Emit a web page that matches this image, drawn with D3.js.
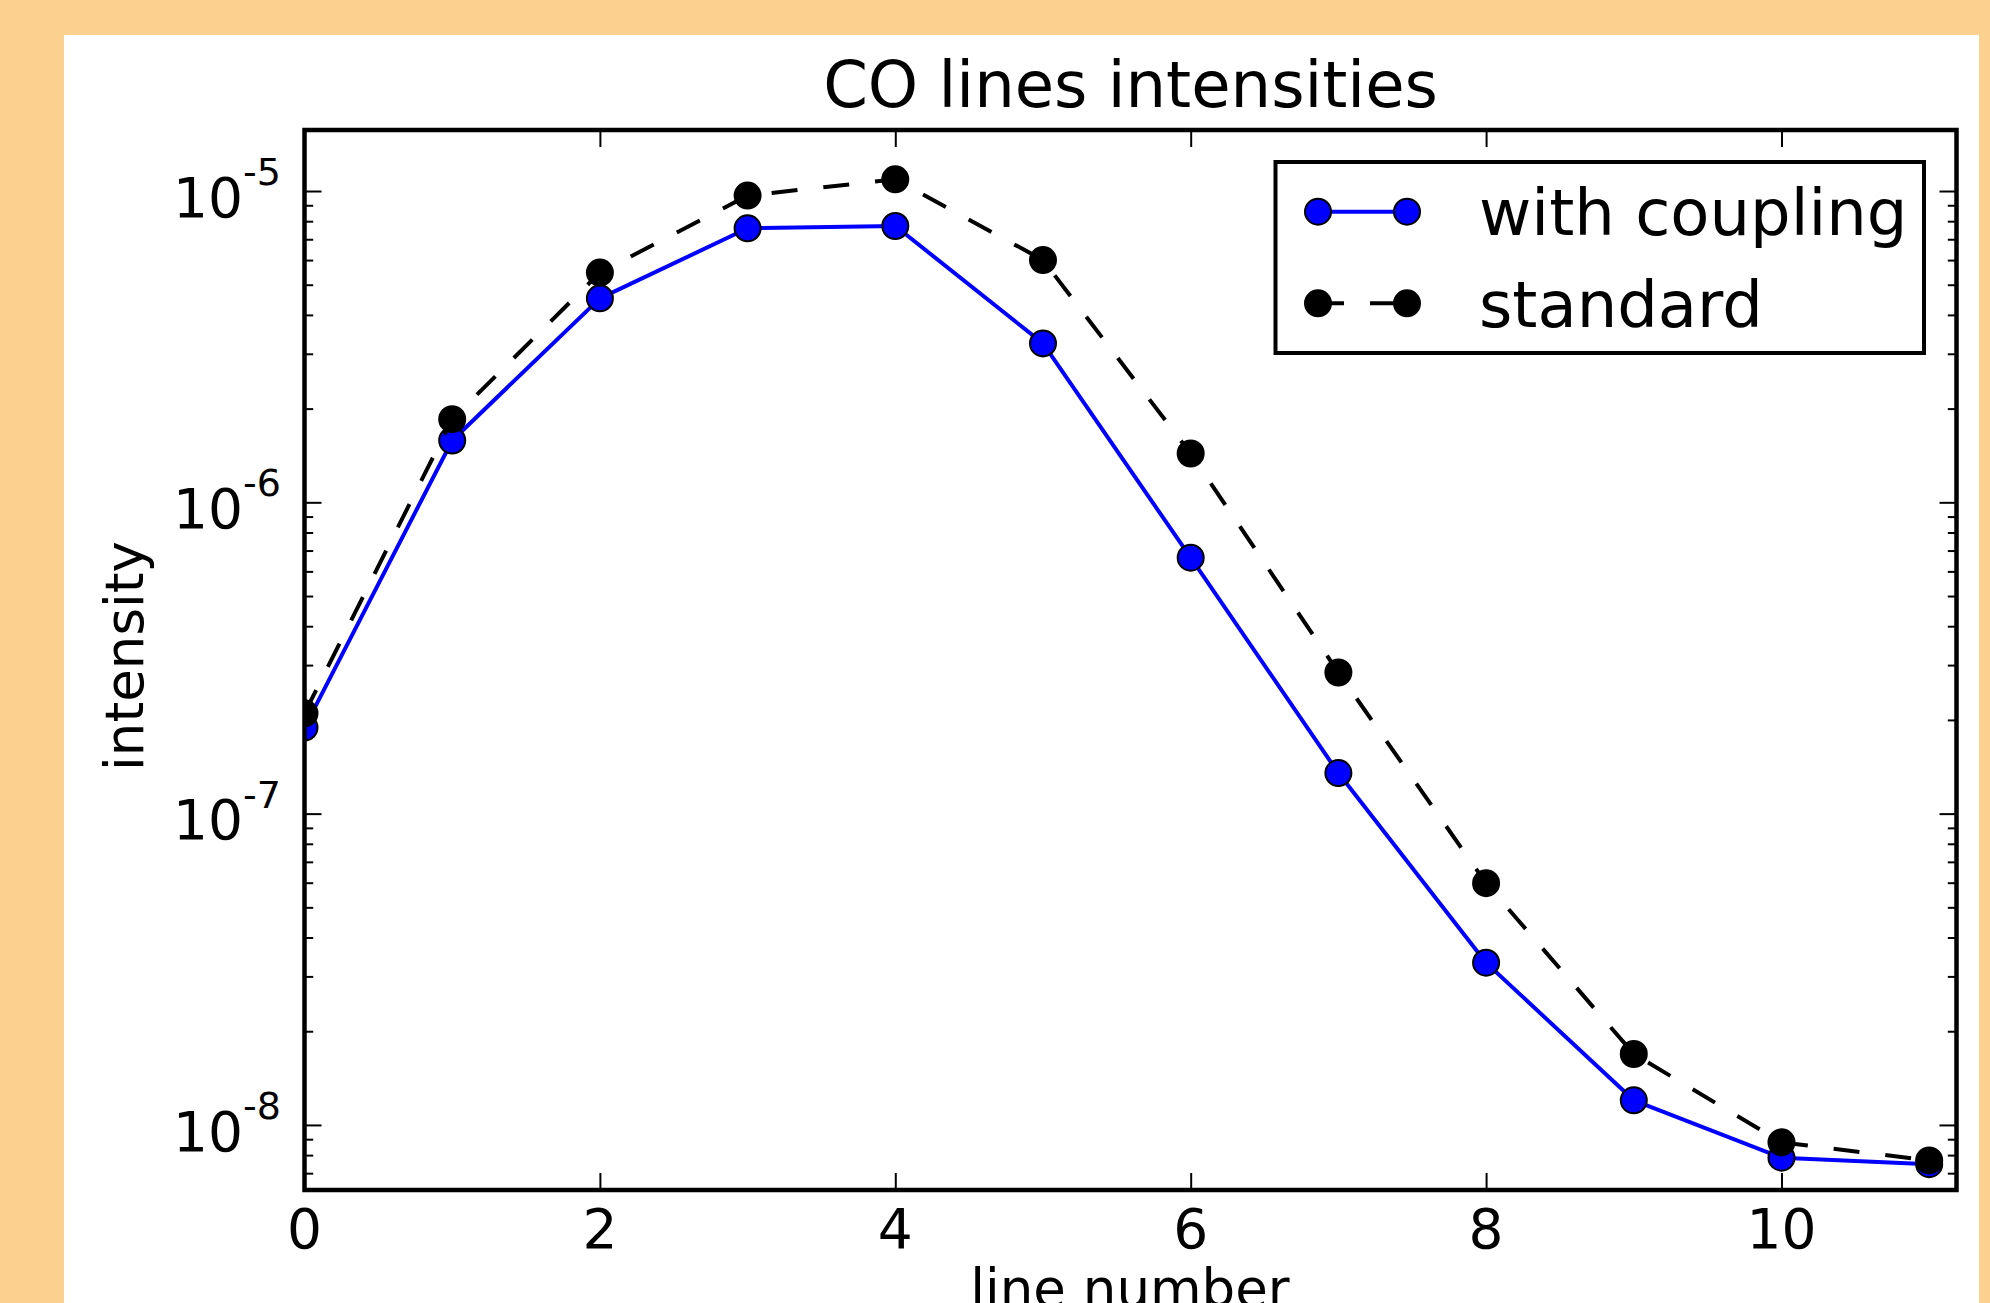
<!DOCTYPE html>
<html><head><meta charset="utf-8">
<script src="https://cdn.jsdelivr.net/npm/d3@7"></script>
<style>html,body{margin:0;padding:0;background:#fcd08f;overflow:hidden}</style>
</head><body>
<svg id="c" width="1990" height="1303"></svg>
<script>
// ---- data ----
const lineNumbers = [0, 1, 2, 3, 4, 5, 6, 7, 8, 9, 10, 11];
const withCoupling = [1.89e-7, 1.58e-6, 4.52e-6, 7.59e-6, 7.72e-6, 3.24e-6, 6.64e-7, 1.35e-7, 3.32e-8, 1.20e-8, 7.85e-9, 7.48e-9];
const standard = [2.10e-7, 1.85e-6, 5.47e-6, 9.67e-6, 1.09e-5, 6.0e-6, 1.435e-6, 2.84e-7, 5.98e-8, 1.69e-8, 8.79e-9, 7.69e-9];
const seriesNames = ["with coupling", "standard"];
const xTickValues = [0, 2, 4, 6, 8, 10];
const xTickLabels = ["0", "2", "4", "6", "8", "10"];
const yMajorTicks = [1e-8, 1e-7, 1e-6, 1e-5];
const yTickExponents = ["-8", "-7", "-6", "-5"];
const titleText = "CO lines intensities";
const xLabelText = "line number";
const yLabelText = "intensity";

// ---- layout ----
const FONT = "DejaVu Sans, Liberation Sans, sans-serif";
const L = 304.5, R = 1956.5, T = 130, B = 1190;
const svg = d3.select("#c");

svg.append("rect").attr("x", 64).attr("y", 35).attr("width", 1979 - 64).attr("height", 1303)
  .attr("fill", "#ffffff");

const x = d3.scaleLinear().domain([0, 11.185]).range([L, R]);
const y = d3.scaleLog().domain([Math.pow(10, -8.209), Math.pow(10, -4.804)]).range([B, T]);

const yMinor = y.ticks().filter(v => !yMajorTicks.some(m => Math.abs(m - v) / m < 1e-6));

svg.append("defs").append("clipPath").attr("id", "clip")
  .append("rect").attr("x", L).attr("y", T).attr("width", R - L).attr("height", B - T);

// ---- series ----
const plot = svg.append("g").attr("clip-path", "url(#clip)");
const line = d3.line().x((d, i) => x(lineNumbers[i])).y(d => y(d));

const series = [
  { name: seriesNames[0], values: withCoupling, color: "#0000ff", dash: null },
  { name: seriesNames[1], values: standard, color: "#000000", dash: "26,26" }
];

series.forEach(s => {
  plot.append("path").datum(s.values).attr("d", line)
    .attr("fill", "none").attr("stroke", s.color).attr("stroke-width", 4)
    .attr("stroke-dasharray", s.dash).attr("stroke-linejoin", "round");
  plot.selectAll(null).data(s.values).enter().append("circle")
    .attr("cx", (d, i) => x(lineNumbers[i])).attr("cy", d => y(d)).attr("r", 13)
    .attr("fill", s.color).attr("stroke", "#000").attr("stroke-width", 2);
});

// ---- axes (ticks inward on all sides) ----
function styleAxis(g) {
  g.select(".domain").remove();
  g.selectAll(".tick line").attr("stroke", "#000").attr("stroke-width", 2);
  g.selectAll(".tick text").remove();
}
svg.append("g").attr("transform", `translate(0,${B})`)
  .call(d3.axisBottom(x).tickValues(xTickValues).tickSize(-17).tickFormat(() => "")).call(styleAxis);
svg.append("g").attr("transform", `translate(0,${T})`)
  .call(d3.axisTop(x).tickValues(xTickValues).tickSize(-17).tickFormat(() => "")).call(styleAxis);
svg.append("g").attr("transform", `translate(${L},0)`)
  .call(d3.axisLeft(y).tickValues(yMajorTicks).tickSize(-17).tickFormat(() => "")).call(styleAxis);
svg.append("g").attr("transform", `translate(${L},0)`)
  .call(d3.axisLeft(y).tickValues(yMinor).tickSize(-8.7).tickFormat(() => "")).call(styleAxis);
svg.append("g").attr("transform", `translate(${R},0)`)
  .call(d3.axisRight(y).tickValues(yMajorTicks).tickSize(-17).tickFormat(() => "")).call(styleAxis);
svg.append("g").attr("transform", `translate(${R},0)`)
  .call(d3.axisRight(y).tickValues(yMinor).tickSize(-8.7).tickFormat(() => "")).call(styleAxis);

// frame
svg.append("rect").attr("x", L).attr("y", T).attr("width", R - L).attr("height", B - T)
  .attr("fill", "none").attr("stroke", "#000").attr("stroke-width", 4.5);

// x tick labels
svg.append("g").selectAll("text").data(xTickValues).enter().append("text")
  .attr("x", d => x(d)).attr("y", 1248).attr("text-anchor", "middle")
  .attr("font-family", FONT).attr("font-size", 55).attr("fill", "#000")
  .text((d, i) => xTickLabels[i]);

// y tick labels: 10^e
const yl = svg.append("g").selectAll("text").data(yMajorTicks).enter().append("text")
  .attr("x", 281).attr("y", d => y(d) + 25.7).attr("text-anchor", "end")
  .attr("font-family", FONT).attr("font-size", 55).attr("fill", "#000");
yl.append("tspan").text("10");
yl.append("tspan").attr("dy", -31.7).attr("font-size", 38).text((d, i) => yTickExponents[i]);

// title and axis labels
svg.append("text").attr("x", (L + R) / 2).attr("y", 107).attr("text-anchor", "middle")
  .attr("font-family", FONT).attr("font-size", 64).attr("fill", "#000").text(titleText);
svg.append("text").attr("x", 1130).attr("y", 1307).attr("text-anchor", "middle")
  .attr("font-family", FONT).attr("font-size", 53).attr("fill", "#000").text(xLabelText);
svg.append("text").attr("transform", "translate(143,656) rotate(-90)").attr("text-anchor", "middle")
  .attr("font-family", FONT).attr("font-size", 53).attr("fill", "#000").text(yLabelText);

// ---- legend ----
const lg = svg.append("g");
lg.append("rect").attr("x", 1275.5).attr("y", 162).attr("width", 1924 - 1275.5).attr("height", 353 - 162)
  .attr("fill", "#fff").attr("stroke", "#000").attr("stroke-width", 4);
const lx = d3.scaleLinear().domain([0, 1]).range([1318, 1407]);
const rowY = [211.7, 303.3];
series.forEach((s, i) => {
  lg.append("line").attr("x1", lx(0)).attr("x2", lx(1)).attr("y1", rowY[i]).attr("y2", rowY[i])
    .attr("stroke", s.color).attr("stroke-width", 4).attr("stroke-dasharray", s.dash);
  lg.selectAll(null).data([0, 1]).enter().append("circle")
    .attr("cx", d => lx(d)).attr("cy", rowY[i]).attr("r", 13)
    .attr("fill", s.color).attr("stroke", "#000").attr("stroke-width", 2);
  lg.append("text").attr("x", 1479).attr("y", rowY[i] + 23.3)
    .attr("font-family", FONT).attr("font-size", 64).attr("fill", "#000").text(s.name);
});
</script>
</body></html>
